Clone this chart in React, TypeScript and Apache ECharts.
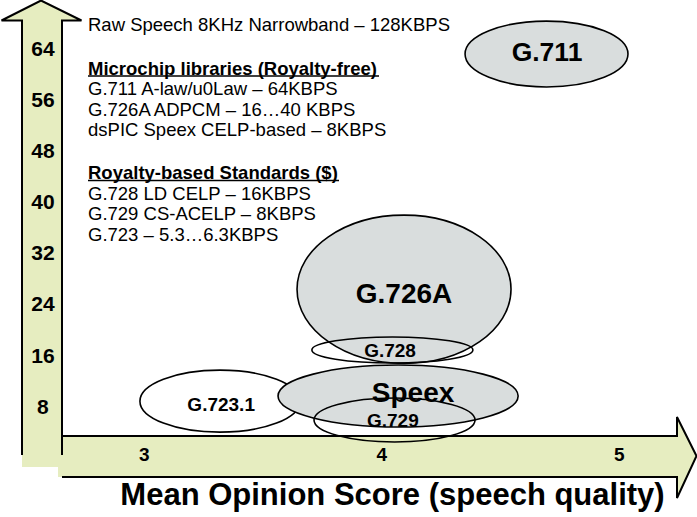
import React, { useEffect, useRef } from "react";
import * as echarts from "echarts";

// Axis tick labels
const yTicks = [8, 16, 24, 32, 40, 48, 56, 64];
const xTicks = [3, 4, 5];

// Codec bubbles: centre (MOS, kbps) and extent (MOS span, kbps span), drawn in this order
const codecNames = ["G.711", "G.723.1", "G.726A", "Speex", "G.728", "G.729"];
const codecMos = [4.694, 3.319, 4.094, 4.069, 4.045, 4.054];
const codecKbps = [63.1, 8.8, 26.3, 9.6, 16.8, 5.85];
const codecMosSpan = [0.686, 0.674, 0.901, 1.011, 0.678, 0.678];
const codecKbpsSpan = [10.3, 9.7, 23.2, 9.7, 4.07, 6.88];

// Label anchor points (data units)
const labelMos = [4.696, 3.324, 4.094, 4.132, 4.035, 4.047];
const labelKbps = [63.4, 8.2, 25.6, 10.1, 16.8, 5.85];

// Annotation lines
const noteLines = [
  "Raw Speech 8KHz Narrowband \u2013 128KBPS",
  "Microchip libraries (Royalty-free)",
  "G.711 A-law/u0Law \u2013 64KBPS",
  "G.726A ADPCM \u2013 16\u202640 KBPS",
  "dsPIC Speex CELP-based \u2013 8KBPS",
  "Royalty-based Standards ($)",
  "G.728 LD CELP \u2013 16KBPS",
  "G.729 CS-ACELP \u2013 8KBPS",
  "G.723 \u2013 5.3\u20266.3KBPS",
];
const noteHeaders = [1, 5];
const axisTitle = "Mean Opinion Score (speech quality)";

const FONT = "'Liberation Sans', Arial, Helvetica, sans-serif";
const AXIS_FONT = "Liberation Sans";
const ARROW_FILL = "#e6edc0";
const GRAY = "#d9dddd";

const codecStyle: Record<string, { fill: string; size: number }> = {
  "G.711": { fill: GRAY, size: 26.5 },
  "G.723.1": { fill: "#ffffff", size: 19 },
  "G.726A": { fill: GRAY, size: 28 },
  Speex: { fill: GRAY, size: 28 },
  "G.728": { fill: "none", size: 19 },
  "G.729": { fill: "none", size: 19 },
};

const noteY = [24.5, 68, 88.5, 109, 129.5, 172.5, 193, 213.5, 234];

export default function App() {
  const ref = useRef<HTMLDivElement>(null);
  useEffect(() => {
    document.body.style.margin = "0";
    if (!ref.current) return;
    const chart = echarts.init(ref.current, undefined, { renderer: "svg" });

    const ellipseData = codecNames.map((_, i) => [
      codecMos[i],
      codecKbps[i],
      codecMosSpan[i],
      codecKbpsSpan[i],
    ]);
    const labelData = codecNames.map((_, i) => [labelMos[i], labelKbps[i]]);

    const graphics: any[] = [
      {
        type: "polygon",
        z: -10,
        silent: true,
        shape: {
          points: [
            [22, 20.5], [1.5, 20.5], [41, 0.5], [81.5, 20.5], [62, 20.5],
            [62, 436], [677, 436], [677, 417], [696.5, 456], [677, 498],
            [677, 477], [58, 477], [58, 467], [22, 467],
          ],
        },
        style: { fill: ARROW_FILL, stroke: "none" },
      },
      {
        type: "polyline",
        z: -9,
        silent: true,
        shape: {
          points: [[22, 455], [22, 20.5], [1.5, 20.5], [41, 0.5], [81.5, 20.5], [62, 20.5], [62, 455]],
        },
        style: { fill: "none", stroke: "#000", lineWidth: 2 },
      },
      {
        type: "polyline",
        z: -9,
        silent: true,
        shape: {
          points: [[62, 436], [677, 436], [677, 417], [696.5, 456], [677, 498], [677, 477], [62, 477]],
        },
        style: { fill: "none", stroke: "#000", lineWidth: 2 },
      },
    ];

    noteLines.forEach((t, i) => {
      const bold = noteHeaders.includes(i);
      graphics.push({
        type: "text",
        x: 88,
        y: noteY[i],
        silent: true,
        style: {
          text: t,
          fill: "#000",
          fontSize: 18.5,
          fontWeight: bold ? "bold" : "normal",
          fontFamily: FONT,
          textAlign: "left",
          align: "left",
          textVerticalAlign: "middle",
          verticalAlign: "middle",
        },
      });
    });
    graphics.push(
      { type: "line", silent: true, shape: { x1: 88, y1: 76, x2: 379, y2: 76 }, style: { stroke: "#000", lineWidth: 1.5 } },
      { type: "line", silent: true, shape: { x1: 88, y1: 180.5, x2: 339, y2: 180.5 }, style: { stroke: "#000", lineWidth: 1.5 } },
      {
        type: "text",
        x: 392.5,
        y: 494,
        silent: true,
        style: {
          text: axisTitle,
          fill: "#000",
          fontSize: 31,
          fontWeight: "bold",
          fontFamily: FONT,
          textAlign: "center",
          align: "center",
          textVerticalAlign: "middle",
          verticalAlign: "middle",
        },
      }
    );

    chart.setOption({
      animation: false,
      grid: {
        left: 25.45,
        right: 6.55,
        top: 9.9,
        bottom: 59.6,
        containLabel: false,
        outerBoundsMode: "none",
      },
      xAxis: {
        type: "value",
        min: 2.5,
        max: 5.3,
        interval: 0.5,
        axisLine: { show: false },
        axisTick: { show: false },
        splitLine: { show: false },
        axisLabel: {
          show: true,
          margin: -3,
          verticalAlign: "middle",
          fontWeight: "bold",
          fontSize: 19,
          color: "#000",
          fontFamily: AXIS_FONT,
          formatter: (v: number) => (xTicks.includes(v) ? String(v) : ""),
        },
      },
      yAxis: {
        type: "value",
        min: 0,
        max: 70,
        interval: 8,
        axisLine: { show: false },
        axisTick: { show: false },
        splitLine: { show: false },
        axisLabel: {
          show: true,
          margin: -17.5,
          align: "center",
          fontWeight: "bold",
          fontSize: 21,
          color: "#000",
          fontFamily: AXIS_FONT,
          formatter: (v: number) => (yTicks.includes(v) ? String(v) : ""),
        },
      },
      graphic: graphics,
      series: [
        {
          type: "custom",
          z: 3,
          clip: false,
          silent: true,
          data: ellipseData,
          encode: { x: 0, y: 1 },
          renderItem: (params: any, api: any) => {
            const i = params.dataIndex;
            const c = api.coord([api.value(0), api.value(1)]);
            const s = api.size([api.value(2), api.value(3)]);
            const st = codecStyle[codecNames[i]];
            return {
              type: "ellipse",
              shape: { cx: c[0], cy: c[1], rx: s[0] / 2, ry: s[1] / 2 },
              style: { fill: st.fill, stroke: "#000", lineWidth: 1.6 },
            };
          },
        },
        {
          type: "custom",
          z: 4,
          clip: false,
          silent: true,
          data: labelData,
          encode: { x: 0, y: 1 },
          renderItem: (params: any, api: any) => {
            const i = params.dataIndex;
            const c = api.coord([api.value(0), api.value(1)]);
            const st = codecStyle[codecNames[i]];
            return {
              type: "text",
              x: c[0],
              y: c[1],
              style: {
                text: codecNames[i],
                fill: "#000",
                fontSize: st.size,
                fontWeight: "bold",
                fontFamily: FONT,
                textAlign: "center",
                align: "center",
                textVerticalAlign: "middle",
                verticalAlign: "middle",
              },
            };
          },
        },
      ],
    });
    return () => chart.dispose();
  }, []);
  return <div ref={ref} style={{ width: 697, height: 517 }} />;
}
